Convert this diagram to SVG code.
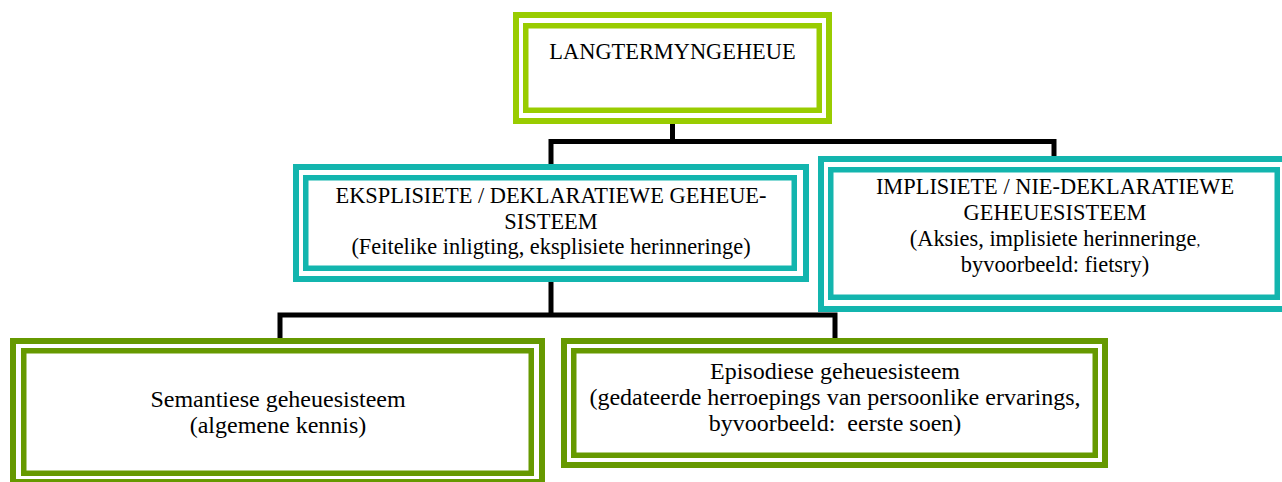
<svg xmlns="http://www.w3.org/2000/svg" width="1282" height="482" viewBox="0 0 1282 482">
<style>
  .bg { fill: #ffffff; }
  .box { fill: none; }
  .lg { stroke: #99cc00; }
  .tl { stroke: #13b5ae; }
  .dg { stroke: #669900; }
  .outer { stroke-width: 6; }
  .inner { stroke-width: 5.5; }
  .conn { fill: none; stroke: #000000; stroke-width: 5; stroke-linejoin: miter; stroke-linecap: butt; }
  .lbl { fill: #000000; text-anchor: middle; }
  .t22 { font-size: 22.4px; }
  .t24 { font-size: 24px; }
</style>
<rect class="bg" x="0" y="0" width="1282" height="482"/>
<g id="connectors">
  <path class="conn" d="M672.5 124 V141.5"/>
  <path class="conn" d="M551 164 V141.5 H1054 V156"/>
  <path class="conn" d="M551 282 V315"/>
  <path class="conn" d="M280 338 V315 H835 V338"/>
</g>
<g font-family="Liberation Serif, 'Times New Roman', 'DejaVu Serif', serif">
<g id="langtermyngeheue">
  <rect class="box lg outer" x="516" y="15" width="313" height="106"/>
  <rect class="box lg inner" x="525.75" y="25.75" width="293.5" height="84.5"/>
  <text class="lbl t22" x="672.5" y="59">LANGTERMYNGEHEUE</text>
</g>
<g id="eksplisiete">
  <rect class="box tl outer" x="296" y="167" width="510" height="112"/>
  <rect class="box tl inner" x="305.75" y="177.75" width="488.5" height="90.5"/>
  <text class="lbl t22" x="551" y="203">EKSPLISIETE / DEKLARATIEWE GEHEUE-</text>
  <text class="lbl t22" x="551" y="229">SISTEEM</text>
  <text class="lbl t22" x="551" y="254">(Feitelike inligting, eksplisiete herinneringe)</text>
</g>
<g id="implisiete">
  <rect class="box tl outer" x="821" y="159" width="468" height="150"/>
  <rect class="box tl inner" x="830.75" y="169.75" width="446.5" height="127.5"/>
  <text class="lbl t22" x="1055" y="194">IMPLISIETE / NIE-DEKLARATIEWE</text>
  <text class="lbl t22" x="1055" y="220">GEHEUESISTEEM</text>
  <text class="lbl t22" x="1055" y="246">(Aksies, implisiete herinneringe<tspan font-size="15px">,</tspan></text>
  <text class="lbl t22" x="1055" y="272">byvoorbeeld: fietsry)</text>
</g>
<g id="semantiese">
  <rect class="box dg outer" x="13" y="341" width="529" height="141"/>
  <rect class="box dg inner" x="23.75" y="350.75" width="507.5" height="122.5"/>
  <text class="lbl t24" x="278" y="407">Semantiese geheuesisteem</text>
  <text class="lbl t24" x="278" y="433">(algemene kennis)</text>
</g>
<g id="episodiese">
  <rect class="box dg outer" x="564" y="341" width="541" height="124"/>
  <rect class="box dg inner" x="573.75" y="350.75" width="521.5" height="104.5"/>
  <text class="lbl t24" x="835" y="379">Episodiese geheuesisteem</text>
  <text class="lbl t24" x="835" y="405">(gedateerde herroepings van persoonlike ervarings,</text>
  <text class="lbl t24" x="835" y="431" xml:space="preserve">byvoorbeeld:  eerste soen)</text>
</g>
</g>
</svg>
